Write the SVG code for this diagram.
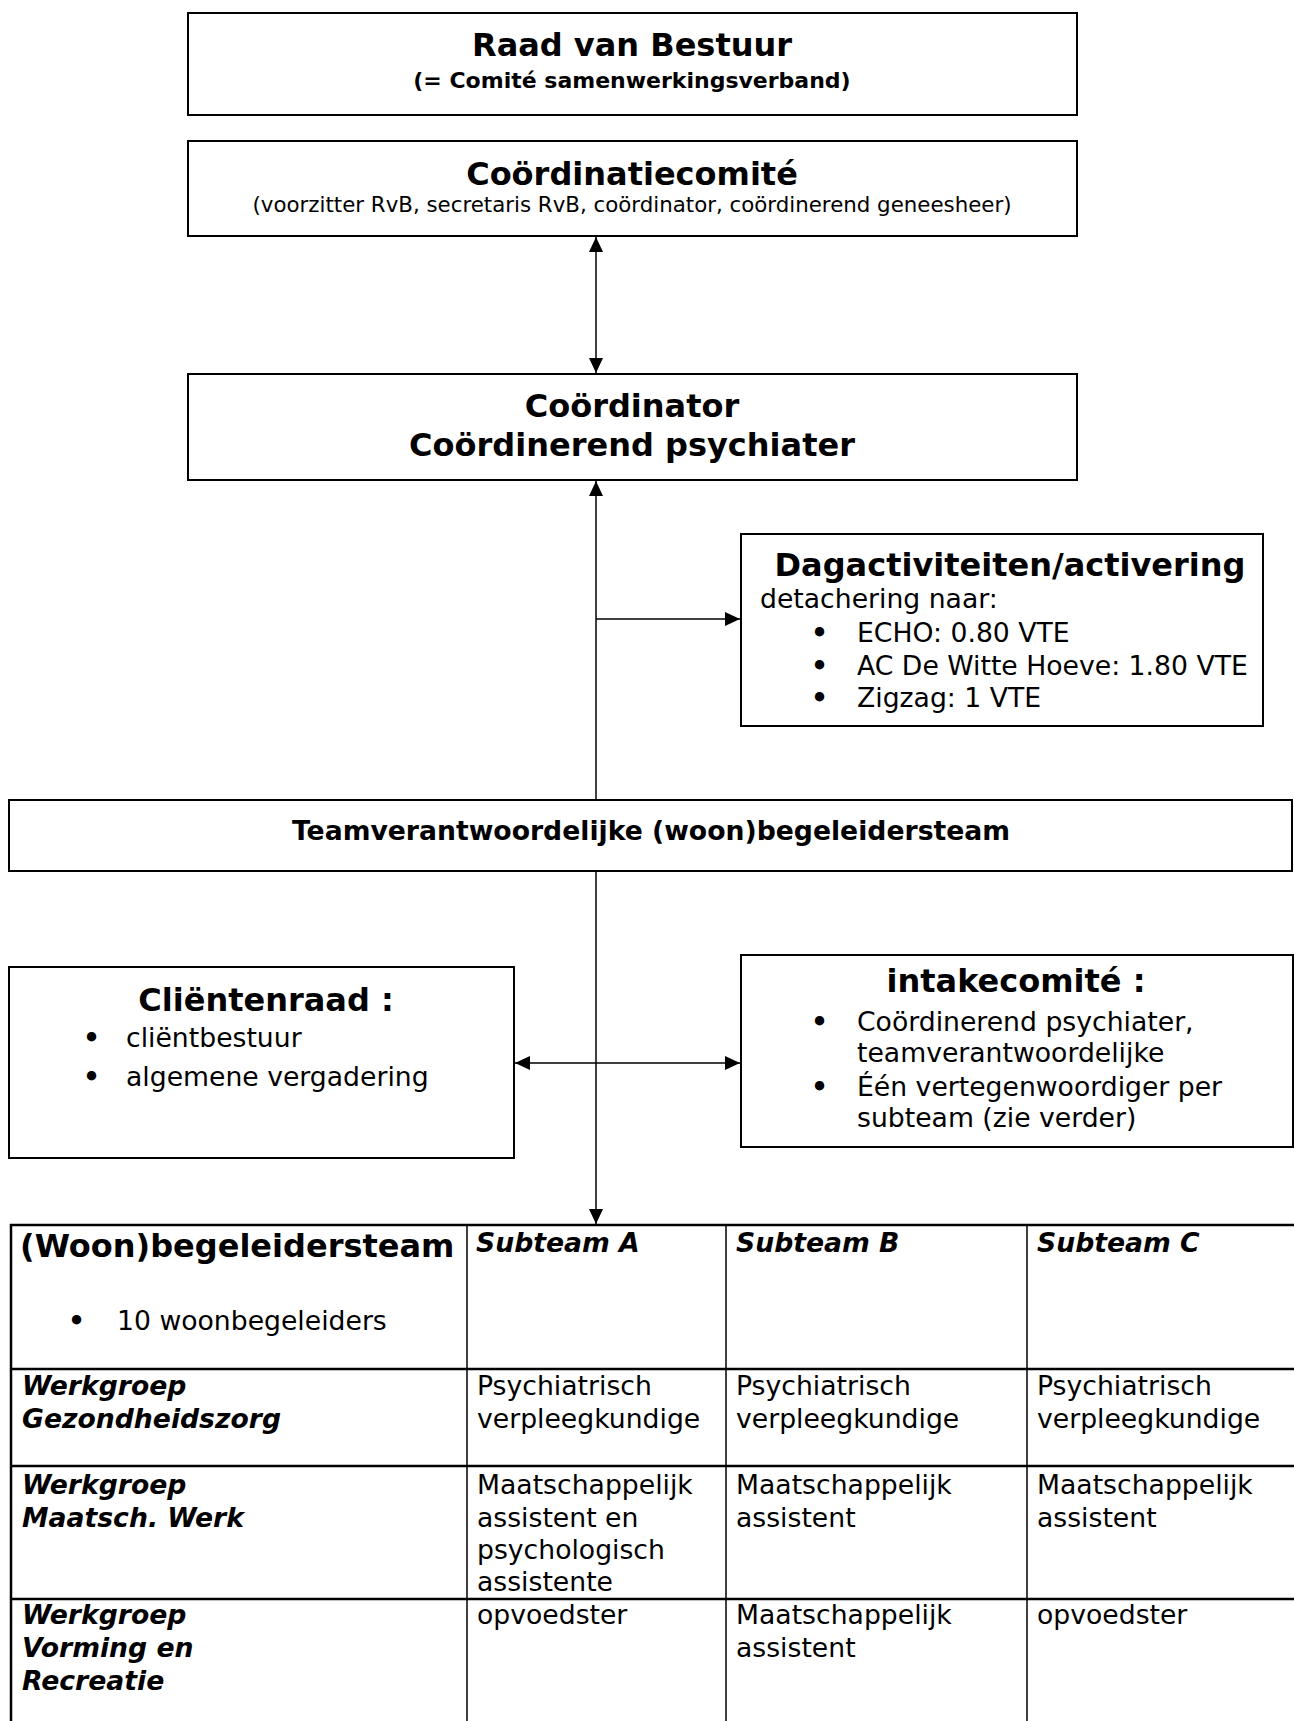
<svg xmlns="http://www.w3.org/2000/svg" width="1294" height="1721" viewBox="0 0 1294 1721">
<defs>
<style>
text{font-family:"DejaVu Sans","Verdana",sans-serif;fill:#000}
.h{font-size:32px;font-weight:bold;text-anchor:middle}
.sb{font-size:22px;font-weight:bold;text-anchor:middle}
.s{font-size:21.33px;text-anchor:middle}
.b{font-size:26.67px}
.bu{font-size:26.67px;font-weight:bold}
.bb{font-size:26.67px;font-weight:bold}
.bi{font-size:26.67px;font-weight:bold;font-style:italic}
.box{fill:#fff;stroke:#000;stroke-width:2}
.con{fill:none;stroke:#000;stroke-width:1.5}
.tl{stroke:#000;stroke-width:2.5}
.tv{stroke:#000;stroke-width:1.5}
</style>
<marker id="ah" viewBox="0 0 15 14" refX="15" refY="7" markerWidth="15" markerHeight="14" markerUnits="userSpaceOnUse" orient="auto-start-reverse">
<path d="M0,0 L15,7 L0,14 Z" fill="#000"/>
</marker>
</defs>
<rect width="1294" height="1721" fill="#fff"/>

<g id="connectors">
<line class="con" x1="596" y1="237" x2="596" y2="373" marker-start="url(#ah)" marker-end="url(#ah)"/>
<line class="con" x1="596" y1="800" x2="596" y2="481" marker-end="url(#ah)"/>
<line class="con" x1="596" y1="619" x2="740" y2="619" marker-end="url(#ah)"/>
<line class="con" x1="596" y1="871" x2="596" y2="1224" marker-end="url(#ah)"/>
<line class="con" x1="515" y1="1063" x2="740" y2="1063" marker-start="url(#ah)" marker-end="url(#ah)"/>
</g>

<g id="raad">
<rect class="box" x="188" y="13" width="889" height="102"/>
<text class="h" x="632" y="56">Raad van Bestuur</text>
<text class="sb" x="632" y="88">(= Comité samenwerkingsverband)</text>
</g>

<g id="coordinatiecomite">
<rect class="box" x="188" y="141" width="889" height="95"/>
<text class="h" x="632" y="185">Coördinatiecomité</text>
<text class="s" x="632" y="212">(voorzitter RvB, secretaris RvB, coördinator, coördinerend geneesheer)</text>
</g>

<g id="coordinator">
<rect class="box" x="188" y="374" width="889" height="106"/>
<text class="h" x="632" y="417">Coördinator</text>
<text class="h" x="632" y="456">Coördinerend psychiater</text>
</g>

<g id="dagactiviteiten">
<rect class="box" x="741" y="534" width="522" height="192"/>
<text class="h" x="1010" y="576">Dagactiviteiten/activering</text>
<text class="b" x="760" y="608">detachering naar:</text>
<text class="bu" x="811" y="642">•</text>
<text class="b" x="857" y="642">ECHO: 0.80 VTE</text>
<text class="bu" x="811" y="675">•</text>
<text class="b" x="857" y="675">AC De Witte Hoeve: 1.80 VTE</text>
<text class="bu" x="811" y="707">•</text>
<text class="b" x="857" y="707">Zigzag: 1 VTE</text>
</g>

<g id="teamverantwoordelijke">
<rect class="box" x="9" y="800" width="1283" height="71"/>
<text class="bb" x="651" y="840" text-anchor="middle">Teamverantwoordelijke (woon)begeleidersteam</text>
</g>

<g id="clientenraad">
<rect class="box" x="9" y="967" width="505" height="191"/>
<text class="h" x="266" y="1011">Cliëntenraad :</text>
<text class="bu" x="83" y="1047">•</text>
<text class="b" x="126" y="1047">cliëntbestuur</text>
<text class="bu" x="83" y="1086">•</text>
<text class="b" x="126" y="1086">algemene vergadering</text>
</g>

<g id="intakecomite">
<rect class="box" x="741" y="955" width="552" height="192"/>
<text class="h" x="1016" y="992">intakecomité :</text>
<text class="bu" x="811" y="1031">•</text>
<text class="b" x="857" y="1031">Coördinerend psychiater,</text>
<text class="b" x="857" y="1062">teamverantwoordelijke</text>
<text class="bu" x="811" y="1096">•</text>
<text class="b" x="857" y="1096">Één vertegenwoordiger per</text>
<text class="b" x="857" y="1127">subteam (zie verder)</text>
</g>

<g id="tabel">
<line class="tl" x1="10" y1="1225" x2="1294" y2="1225"/>
<line class="tl" x1="10" y1="1369" x2="1294" y2="1369"/>
<line class="tl" x1="10" y1="1466" x2="1294" y2="1466"/>
<line class="tl" x1="10" y1="1599" x2="1294" y2="1599"/>
<line class="tl" x1="11" y1="1224" x2="11" y2="1721"/>
<line class="tv" x1="467" y1="1225" x2="467" y2="1721"/>
<line class="tv" x1="726" y1="1225" x2="726" y2="1721"/>
<line class="tv" x1="1027" y1="1225" x2="1027" y2="1721"/>

<text class="bb" x="20" y="1257" style="font-size:32px">(Woon)begeleidersteam</text>
<text class="bu" x="68" y="1330">•</text>
<text class="b" x="117" y="1330">10 woonbegeleiders</text>
<text class="bi" x="476" y="1252">Subteam A</text>
<text class="bi" x="736" y="1252">Subteam B</text>
<text class="bi" x="1037" y="1252">Subteam C</text>

<text class="bi" x="22" y="1395">Werkgroep</text>
<text class="bi" x="22" y="1428">Gezondheidszorg</text>
<text class="b" x="477" y="1395">Psychiatrisch</text>
<text class="b" x="477" y="1428">verpleegkundige</text>
<text class="b" x="736" y="1395">Psychiatrisch</text>
<text class="b" x="736" y="1428">verpleegkundige</text>
<text class="b" x="1037" y="1395">Psychiatrisch</text>
<text class="b" x="1037" y="1428">verpleegkundige</text>

<text class="bi" x="22" y="1494">Werkgroep</text>
<text class="bi" x="22" y="1527">Maatsch. Werk</text>
<text class="b" x="477" y="1494">Maatschappelijk</text>
<text class="b" x="477" y="1527">assistent en</text>
<text class="b" x="477" y="1559">psychologisch</text>
<text class="b" x="477" y="1591">assistente</text>
<text class="b" x="736" y="1494">Maatschappelijk</text>
<text class="b" x="736" y="1527">assistent</text>
<text class="b" x="1037" y="1494">Maatschappelijk</text>
<text class="b" x="1037" y="1527">assistent</text>

<text class="bi" x="22" y="1624">Werkgroep</text>
<text class="bi" x="22" y="1657">Vorming en</text>
<text class="bi" x="22" y="1690">Recreatie</text>
<text class="b" x="477" y="1624">opvoedster</text>
<text class="b" x="736" y="1624">Maatschappelijk</text>
<text class="b" x="736" y="1657">assistent</text>
<text class="b" x="1037" y="1624">opvoedster</text>
</g>
</svg>
